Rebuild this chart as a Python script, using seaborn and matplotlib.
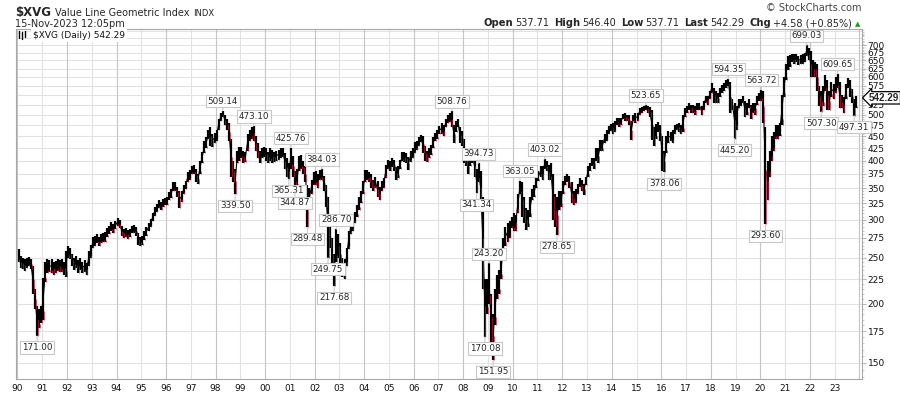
import numpy as np
import pandas as pd
import matplotlib
matplotlib.use("Agg")
import matplotlib.pyplot as plt
import seaborn as sns
from matplotlib.ticker import FixedLocator, NullFormatter, FixedFormatter

sns.set_theme(style="white")
plt.rcParams['font.family'] = ['DejaVu Sans']

# ---------------- data (monthly low / high) ----------------
start_year = 1990
lows = [
    245, 238, 236, 234, 238, 240, 236, 210, 195, 171.00, 178, 182,          # 1990
    185, 222, 232, 233, 232, 230, 232, 234, 233, 233, 230, 228,             # 1991
    250, 248, 240, 235, 238, 232, 235, 232, 233, 230, 240, 250,             # 1992
    262, 265, 268, 264, 268, 270, 270, 276, 280, 285, 282, 287,             # 1993
    292, 288, 278, 275, 276, 274, 276, 282, 282, 278, 266, 264,             # 1994
    266, 272, 278, 284, 290, 298, 306, 312, 318, 315, 320, 322,             # 1995
    322, 330, 334, 345, 346, 335, 318, 328, 340, 348, 360, 365,             # 1996
    375, 375, 360, 358, 375, 395, 415, 425, 445, 430, 428, 435,             # 1997
    440, 465, 485, 495, 475, 465, 440, 370, 360, 339.50, 395, 400,          # 1998
    405, 395, 398, 420, 440, 445, 440, 420, 405, 395, 405, 408,             # 1999
    400, 395, 400, 395, 398, 400, 402, 405, 408, 385, 370, 365.31,          # 2000
    385, 370, 344.87, 350, 380, 385, 375, 360, 289.48, 320, 340, 355,       # 2001
    355, 350, 365, 365, 345, 320, 249.75, 262, 235, 217.68, 245, 250,       # 2002
    240, 228, 225, 240, 260, 280, 285, 295, 305, 315, 325, 340,             # 2003
    360, 365, 360, 350, 345, 350, 335, 330, 345, 350, 368, 385,             # 2004
    380, 388, 380, 364, 368, 385, 400, 398, 395, 382, 398, 405,             # 2005
    415, 422, 430, 438, 415, 400, 397, 405, 412, 425, 440, 445,             # 2006
    455, 455, 450, 470, 480, 482, 470, 436, 460, 470, 435, 430,             # 2007
    395, 390, 375, 390, 395, 370, 341.34, 360, 320, 215, 170.08, 190,       # 2008
    200, 165, 151.95, 180, 205, 210, 225, 250, 265, 270, 275, 288,          # 2009
    285, 285, 310, 340, 305, 295, 286, 290, 305, 330, 335, 350,             # 2010
    362, 370, 365, 385, 380, 365, 365, 300, 290, 278.65, 315, 320,          # 2011
    340, 355, 360, 350, 325, 322, 325, 340, 352, 345, 338, 355,             # 2012
    370, 380, 390, 385, 400, 395, 420, 420, 435, 440, 455, 462,             # 2013
    455, 460, 475, 470, 475, 490, 485, 485, 475, 442, 485, 480,             # 2014
    485, 500, 505, 508, 510, 505, 495, 442, 430, 445, 460, 440,             # 2015
    380, 378.06, 415, 435, 440, 435, 455, 465, 460, 455, 460, 495,          # 2016
    505, 510, 505, 505, 500, 510, 512, 500, 510, 530, 525, 540,             # 2017
    555, 530, 528, 530, 545, 555, 560, 570, 575, 505, 510, 445.20,          # 2018
    465, 515, 520, 530, 495, 500, 515, 490, 505, 500, 525, 535,             # 2019
    535, 480, 293.60, 330, 370, 400, 420, 445, 445, 450, 475, 545,          # 2020
    590, 620, 630, 645, 640, 645, 635, 640, 640, 645, 665, 650,             # 2021
    600, 600, 600, 560, 520, 507.30, 520, 560, 510, 510, 545, 540,          # 2022
    555, 570, 515, 515, 505, 540, 570, 545, 530, 497.31, 515,               # 2023
]
highs = [
    260, 252, 250, 248, 250, 251, 248, 240, 215, 198, 195, 198,             # 1990
    226, 245, 248, 247, 248, 245, 246, 248, 247, 248, 245, 258,             # 1991
    265, 262, 255, 250, 252, 247, 250, 245, 247, 244, 258, 266,             # 1992
    276, 278, 280, 276, 280, 282, 283, 288, 292, 297, 294, 298,             # 1993
    303, 300, 292, 287, 288, 286, 287, 292, 293, 290, 282, 276,             # 1994
    278, 284, 290, 295, 302, 310, 320, 324, 330, 328, 332, 334,             # 1995
    336, 344, 348, 360, 360, 352, 345, 345, 355, 362, 378, 382,             # 1996
    390, 392, 385, 375, 400, 418, 440, 448, 465, 470, 455, 458,             # 1997
    465, 490, 505, 509.14, 500, 490, 480, 445, 400, 385, 420, 428,          # 1998
    428, 420, 418, 455, 465, 470, 473.10, 450, 435, 420, 425, 428,          # 1999
    425, 418, 425, 422, 418, 420, 422, 425, 426, 415, 405, 395,             # 2000
    425.76, 410, 380, 385, 410, 412, 400, 390, 355, 350, 365, 378,          # 2001
    380, 375, 382, 384.03, 372, 355, 335, 290, 275, 255, 286.70, 280,       # 2002
    268, 250, 248, 262, 285, 300, 305, 312, 322, 335, 345, 362,             # 2003
    382, 382, 378, 375, 365, 370, 362, 352, 362, 368, 392, 402,             # 2004
    400, 405, 402, 388, 390, 402, 418, 418, 415, 408, 420, 425,             # 2005
    438, 440, 448, 452, 450, 430, 420, 425, 432, 448, 458, 465,             # 2006
    472, 480, 475, 490, 500, 505, 508.76, 475, 485, 490, 470, 462,          # 2007
    445, 420, 405, 412, 420, 410, 385, 394.73, 380, 335, 225, 225,          # 2008
    243.20, 210, 190, 215, 230, 235, 255, 275, 290, 295, 298, 305,          # 2009
    310, 308, 340, 363.05, 360, 335, 318, 315, 335, 348, 355, 372,          # 2010
    380, 390, 390, 403.02, 400, 392, 395, 375, 340, 335, 345, 345,          # 2011
    362, 372, 375, 372, 360, 345, 348, 358, 368, 365, 358, 370,             # 2012
    390, 395, 405, 405, 425, 425, 442, 442, 455, 465, 472, 478,             # 2013
    480, 485, 492, 492, 492, 502, 504, 500, 498, 485, 500, 505,             # 2014
    505, 515, 518, 520, 523.65, 522, 518, 510, 470, 478, 482, 475,          # 2015
    450, 420, 450, 462, 460, 465, 475, 478, 480, 475, 500, 515,             # 2016
    522, 528, 525, 525, 522, 528, 530, 522, 535, 548, 548, 560,             # 2017
    584, 570, 560, 555, 570, 578, 582, 590, 594.35, 585, 540, 530,          # 2018
    520, 540, 540, 548, 535, 530, 540, 525, 530, 530, 548, 555,             # 2019
    563.72, 560, 470, 400, 420, 450, 460, 475, 475, 480, 550, 600,          # 2020
    640, 665, 668, 672, 670, 672, 665, 668, 670, 675, 699.03, 690,          # 2021
    680, 650, 645, 640, 575, 560, 575, 605, 590, 560, 585, 580,             # 2022
    600, 609.65, 585, 550, 545, 580, 598, 590, 565, 540, 546.40,            # 2023
]
peak_notes = [509.14, 473.10, 425.76, 384.03, 286.70, 508.76, 394.73, 243.20,
              363.05, 403.02, 523.65, 594.35, 563.72, 699.03, 609.65]
trough_notes = [171.00, 339.50, 365.31, 344.87, 289.48, 249.75, 217.68, 341.34,
                170.08, 151.95, 278.65, 378.06, 445.20, 293.60, 507.30, 497.31]
last_value = 542.29
y_ticks = list(range(150, 701, 25))
x_years = list(range(1990, 2024))

# ---------------- figure ----------------
W, H = 900, 396
fig = plt.figure(figsize=(W / 100, H / 100), dpi=100)
fig.patch.set_facecolor("white")
ax = fig.add_axes([16 / W, (H - 379) / H, 846 / W, 350 / H])

n = len(lows)
df = pd.DataFrame({
    "date": start_year + (np.arange(n) + 0.5) / 12.0,
    "low": lows,
    "high": highs,
})
df["mid"] = (df["low"] + df["high"]) / 2

ax.set_yscale("log")
ax.set_ylim(138.8, 757)
ax.set_xlim(1989.94, 2024.107)

# grid
for yv in y_ticks + [725, 750]:
    ax.axhline(yv, color="#e2e2e2", lw=0.8, zorder=0)
for yr in x_years + [2024]:
    ax.axvline(yr, color="#c4c4c4" if yr % 2 == 0 else "#e2e2e2", lw=0.8, zorder=0)

# price bars
ax.vlines(df["date"], df["low"], df["high"], colors="black", linewidth=1.6, zorder=3)
sns.lineplot(data=df, x="date", y="mid", color="black", lw=0.8, ax=ax, zorder=3)
down = df["mid"].diff().fillna(0) < 0
frac = np.where(down, 0.5, 0.2)
ax.vlines(df["date"] + 0.3 / 12, df["low"], df["low"] + frac * (df["high"] - df["low"]),
          colors="#d0103a", linewidth=0.5, zorder=4)

ax.set_xlabel("")
ax.set_ylabel("")

# axes styling
for s in ax.spines.values():
    s.set_color("#a8a8a8")
    s.set_linewidth(0.8)
ax.yaxis.tick_right()
ax.yaxis.set_major_locator(FixedLocator(y_ticks))
ax.yaxis.set_major_formatter(FixedFormatter([str(v) for v in y_ticks]))
ax.yaxis.set_minor_locator(FixedLocator([v for v in range(140, 760, 5) if v % 25]))
ax.yaxis.set_minor_formatter(NullFormatter())
ax.tick_params(axis="y", which="major", right=True, left=False, length=3, width=0.6,
               color="#a8a8a8", labelsize=6.5, pad=1.0, labelcolor="#111111")
ax.tick_params(axis="y", which="minor", right=True, left=False, length=1.5, width=0.5,
               color="#b8b8b8")
ax.xaxis.set_major_locator(FixedLocator(x_years))
ax.xaxis.set_major_formatter(FixedFormatter(["%02d" % (y % 100) for y in x_years]))
ax.xaxis.set_minor_locator(FixedLocator([]))
ax.tick_params(axis="x", length=0, labelsize=6.5, pad=3.5, labelcolor="#111111")

# annotations
def find_date(val, col):
    idx = (df[col] - val).abs().idxmin()
    return df.loc[idx, "date"]

box = dict(boxstyle="square,pad=0.18", fc="white", ec="#c8c8c8", lw=0.8)
arrow = dict(arrowstyle="-", color="#c8c8c8", lw=0.8, shrinkA=0, shrinkB=0)
for v in peak_notes:
    ax.annotate(f"{v:.2f}", xy=(find_date(v, "high"), v), xytext=(0, 5),
                textcoords="offset pixels", ha="center", va="bottom", fontsize=6.3,
                bbox=box, arrowprops=arrow, zorder=6, annotation_clip=False)
for v in trough_notes:
    ax.annotate(f"{v:.2f}", xy=(find_date(v, "low"), v), xytext=(0, -7),
                textcoords="offset pixels", ha="center", va="top", fontsize=6.3,
                bbox=box, arrowprops=arrow, zorder=6, annotation_clip=False)

# last price tag (covers the neighbouring tick labels, as in the original)
ax.annotate(f"{last_value:.2f}", xy=(1.0, last_value), xycoords=("axes fraction", "data"),
            xytext=(7, 0), textcoords="offset pixels", ha="left", va="center",
            fontsize=7.1, fontweight="bold", family="Liberation Sans",
            bbox=dict(boxstyle="larrow,pad=0.12", fc="white", ec="black", lw=0.9),
            zorder=10, annotation_clip=False)

# legend inside plot
ax.text((33 - 16) / 846, 1 - 6 / 350, "$XVG (Daily) 542.29", transform=ax.transAxes,
        ha="left", va="center", fontsize=6.5, color="#111111",
        bbox=dict(boxstyle="square,pad=0.25", fc="white", ec="none"), zorder=7)
for dx, (a, b) in zip([19, 22, 25], [(31, 38), (32, 39), (31, 37)]):
    fig.add_artist(plt.Line2D([dx / W, dx / W], [1 - a / H, 1 - b / H], color="black",
                              lw=1.0, zorder=20))

# header texts
fig.canvas.draw()
rend = fig.canvas.get_renderer()

def place(x, y, pieces, align="left"):
    texts = []
    widths = []
    for s, kw, gap in pieces:
        t = fig.text(0, 1 - y / H, s, ha="left", va="baseline", **kw)
        widths.append(t.get_window_extent(renderer=rend).width + gap)
        texts.append(t)
    total = sum(widths)
    cx = x - total if align == "right" else x
    for t, w in zip(texts, widths):
        t.set_x(cx / W)
        cx += w

place(15, 16, [("$XVG", dict(fontsize=8.5, fontweight="bold"), 4),
               ("Value Line Geometric Index", dict(fontsize=7), 4),
               ("INDX", dict(fontsize=6), 0)])
fig.text(15 / W, 1 - 27 / H, "15-Nov-2023 12:05pm", fontsize=7, ha="left", va="baseline")
fig.text(862 / W, 1 - 11 / H, "\u00a9 StockCharts.com", fontsize=7, ha="right",
         va="baseline", color="#444444")
b = dict(fontsize=7.2, fontweight="bold")
r = dict(fontsize=7)
place(860, 26, [("Open", b, 2), ("537.71", r, 5), ("High", b, 2), ("546.40", r, 5),
                ("Low", b, 2), ("537.71", r, 5), ("Last", b, 2), ("542.29", r, 5),
                ("Chg", b, 2), ("+4.58 (+0.85%)", r, 3),
                ("\u25b2", dict(fontsize=5, color="#1a9a1a"), 0)], align="right")

fig.savefig("out.png", dpi=100, facecolor="white")
